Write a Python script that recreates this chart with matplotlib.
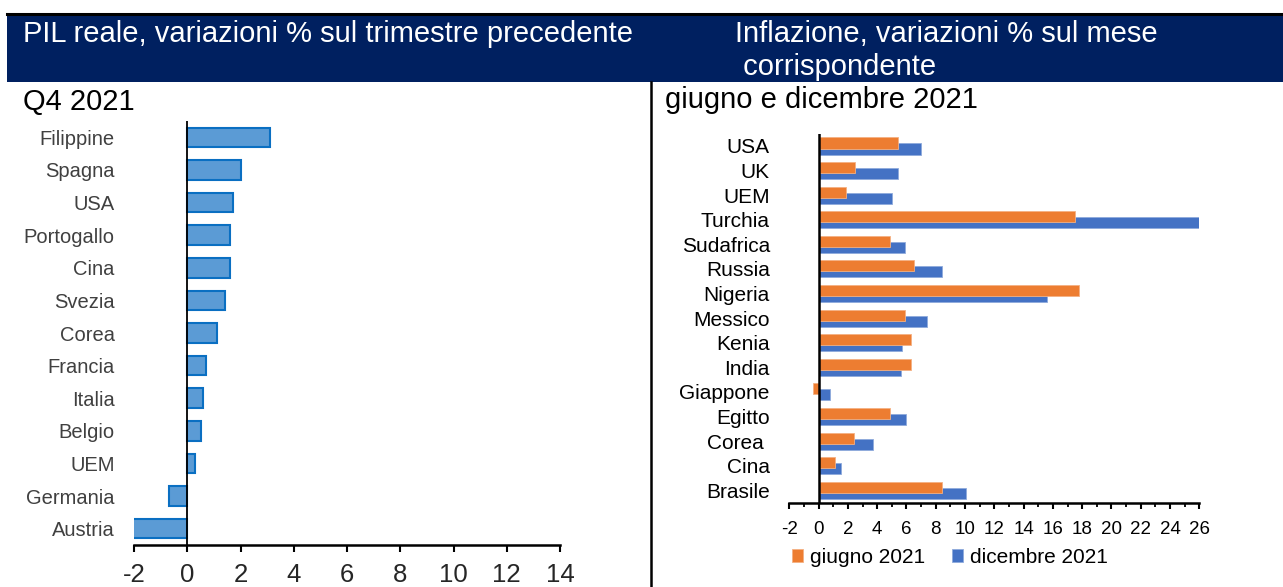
import matplotlib
matplotlib.use("Agg")
import matplotlib.pyplot as plt
from matplotlib.patches import Rectangle
from matplotlib.lines import Line2D
import numpy as np

plt.rcParams['font.family'] = ['Liberation Sans', 'DejaVu Sans']
plt.rcParams['axes.unicode_minus'] = False

# PIL reale, Q4 2021
pil_paesi = ['Filippine', 'Spagna', 'USA', 'Portogallo', 'Cina', 'Svezia', 'Corea',
             'Francia', 'Italia', 'Belgio', 'UEM', 'Germania', 'Austria']
pil_valori = [3.1, 2.0, 1.7, 1.6, 1.6, 1.4, 1.1, 0.7, 0.6, 0.5, 0.3, -0.7, -2.2]

# Inflazione, giugno e dicembre 2021
infl_paesi = ['USA', 'UK', 'UEM', 'Turchia', 'Sudafrica', 'Russia', 'Nigeria', 'Messico',
              'Kenia', 'India', 'Giappone', 'Egitto', 'Corea ', 'Cina', 'Brasile']
infl_giugno = [5.4, 2.5, 1.9, 17.5, 4.9, 6.5, 17.8, 5.9, 6.3, 6.3, -0.4, 4.9, 2.4, 1.1, 8.4]
infl_dicembre = [7.0, 5.4, 5.0, 36.1, 5.9, 8.4, 15.6, 7.4, 5.7, 5.6, 0.8, 6.0, 3.7, 1.5, 10.1]

W, H = 1283, 587
fig = plt.figure(figsize=(W / 100, H / 100), dpi=100)


def fx(px):
    return px / W


def fy(py):
    return (H - py) / H


# header band
fig.patches.append(Rectangle((fx(7), fy(82)), fx(W - 7), (82 - 14) / H,
                             transform=fig.transFigure, facecolor='#002060',
                             edgecolor='none', zorder=0))
fig.add_artist(Line2D([fx(7), 1], [fy(14), fy(14)], color='black', lw=2.2))
fig.add_artist(Line2D([fx(651), fx(651)], [fy(82), 0], color='black', lw=1.8))

fig.text(fx(23), fy(42), 'PIL reale, variazioni % sul trimestre precedente',
         color='white', fontsize=21, va='baseline', ha='left')
fig.text(fx(735), fy(42), 'Inflazione, variazioni % sul mese',
         color='white', fontsize=21, va='baseline', ha='left')
fig.text(fx(735), fy(75), ' corrispondente',
         color='white', fontsize=21, va='baseline', ha='left')
fig.text(fx(23), fy(110), 'Q4 2021', color='black', fontsize=21, va='baseline')
fig.text(fx(665), fy(108), 'giugno e dicembre 2021', color='black', fontsize=21,
         va='baseline')

# left chart
ax1 = fig.add_axes([fx(134), fy(545), fx(560 - 134), (545 - 121) / H])
y1 = np.arange(len(pil_paesi))
ax1.barh(y1, pil_valori, height=0.6, color='#5B9BD5', edgecolor='#0A6FC2',
         linewidth=1.5, zorder=2)
ax1.axvline(0, color='black', lw=1.3, zorder=3)
ax1.set_xlim(-2, 14)
ax1.set_ylim(len(pil_paesi) - 0.5, -0.5)
ax1.set_xticks(range(-2, 15, 2))
ax1.set_yticks(y1)
ax1.set_yticklabels(pil_paesi)
ax1.tick_params(axis='y', length=0, pad=14, labelsize=14.5, labelcolor='#404040')
ax1.tick_params(axis='x', length=5, width=1.5, pad=8, labelsize=18.5,
                labelcolor='#262626')
for s in ['top', 'right', 'left']:
    ax1.spines[s].set_visible(False)
ax1.spines['bottom'].set_linewidth(1.8)

# right chart
ax2 = fig.add_axes([fx(789.3), fy(502.5), fx(1199.3 - 789.3), (502.5 - 133.7) / H])
y2 = np.arange(len(infl_paesi))
ax2.barh(y2 + 0.122, infl_dicembre, height=0.45, color='#4472C4',
         edgecolor='#8FAADC', linewidth=0.6, zorder=2, label='dicembre 2021')
ax2.barh(y2 - 0.122, infl_giugno, height=0.45, color='#ED7D31',
         edgecolor='#F4B183', linewidth=0.6, zorder=3, label='giugno 2021')
ax2.axvline(0, color='black', lw=1.8, zorder=4)
ax2.set_xlim(-2, 26)
ax2.set_ylim(len(infl_paesi) - 0.5, -0.5)
ax2.set_xticks(range(-2, 27, 2))
ax2.set_xticks(range(-1, 26, 2), minor=True)
ax2.set_yticks(y2)
ax2.set_yticklabels(infl_paesi)
ax2.tick_params(axis='y', length=0, pad=14, labelsize=15, labelcolor='black')
ax2.tick_params(axis='x', which='major', length=4, width=1.5, pad=9,
                labelsize=13.5)
ax2.tick_params(axis='x', which='minor', length=3, width=1.3)
for s in ['top', 'right', 'left']:
    ax2.spines[s].set_visible(False)
ax2.spines['bottom'].set_linewidth(1.8)

handles, labels = ax2.get_legend_handles_labels()
ax2.legend(handles[::-1], labels[::-1], ncol=2, frameon=False, fontsize=15,
           loc='center left', bbox_to_anchor=(fx(792), fy(557.5)),
           bbox_transform=fig.transFigure, borderpad=0, borderaxespad=0,
           handlelength=0.55, handleheight=0.55, handletextpad=0.3,
           columnspacing=1.3)

fig.savefig('out.png', dpi=100)
